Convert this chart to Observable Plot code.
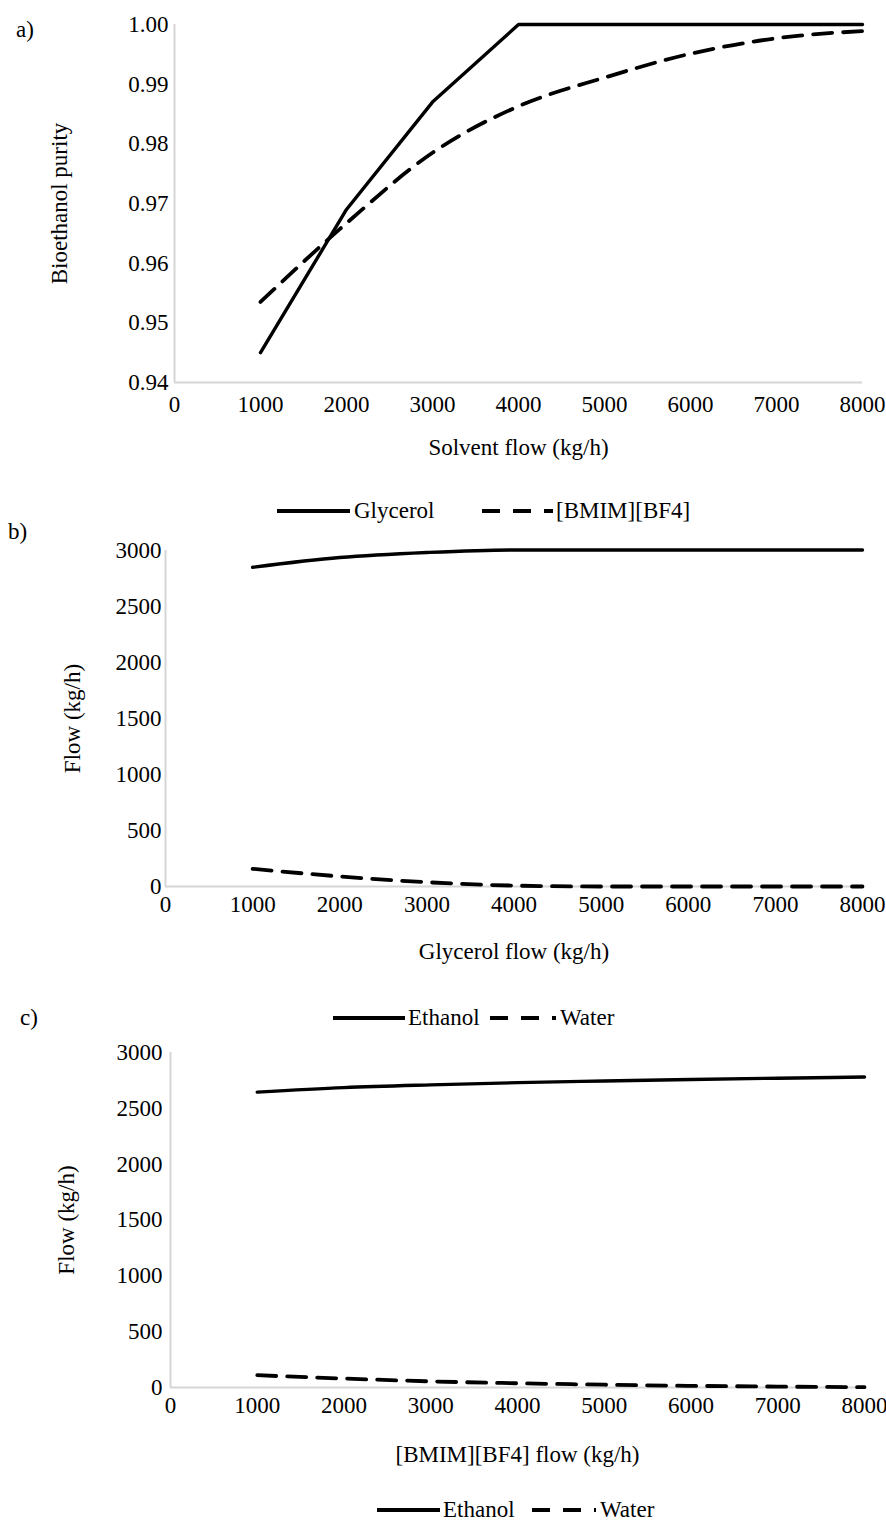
<!DOCTYPE html>
<html>
<head>
<meta charset="utf-8">
<script src="https://cdn.jsdelivr.net/npm/d3@7"></script>
<script src="https://cdn.jsdelivr.net/npm/@observablehq/plot@0.6"></script>
<style>
  html, body { margin: 0; padding: 0; background: #fff; }
  #root { position: relative; width: 886px; height: 1528px; font-family: "Liberation Serif", "Times New Roman", serif; color: #000; overflow: hidden; }
  #root svg, #root svg text, #root svg g { font-family: "Liberation Serif", "Times New Roman", serif !important; font-size: 23px !important; font-variant: normal !important; }
  .abs { position: absolute; }
  .txt { font-size: 23px; line-height: 1; white-space: nowrap; }
</style>
</head>
<body>
<div id="root"></div>
<script>
// ---------- data ----------
const solventFlow = [1000, 2000, 3000, 4000, 5000, 6000, 7000, 8000];
const purityGlycerol = [0.945, 0.969, 0.987, 1.000, 1.000, 1.000, 1.000, 1.000];
const purityBmim = [0.9535, 0.9667, 0.9785, 0.9863, 0.9911, 0.9951, 0.9977, 0.9989];

const glycerolFlow = [1000, 2000, 3000, 4000, 5000, 6000, 7000, 8000];
const glyEthanol = [2850, 2937, 2982, 3005, 3005, 3005, 3005, 3005];
const glyWater = [158, 90, 38, 8, 0, 0, 0, 0];

const bmimFlow = [1000, 2000, 3000, 4000, 5000, 6000, 7000, 8000];
const bmimEthanol = [2645, 2685, 2710, 2730, 2745, 2758, 2770, 2780];
const bmimWater = [110, 80, 55, 38, 25, 15, 8, 3];

const xTicks = [0, 1000, 2000, 3000, 4000, 5000, 6000, 7000, 8000];
const purityTicks = [0.94, 0.95, 0.96, 0.97, 0.98, 0.99, 1.00];
const flowTicks = [0, 500, 1000, 1500, 2000, 2500, 3000];

const panelLabels = ["a)", "b)", "c)"];
const seriesA = ["Glycerol", "[BMIM][BF4]"];
const seriesBC = ["Ethanol", "Water"];
const axisTitles = {
  aX: "Solvent flow (kg/h)", aY: "Bioethanol purity",
  bX: "Glycerol flow (kg/h)", bY: "Flow (kg/h)",
  cX: "[BMIM][BF4] flow (kg/h)", cY: "Flow (kg/h)"
};

// ---------- helpers ----------
const root = document.getElementById("root");
const FONT = "Liberation Serif, Times New Roman, serif";
const DASH = "19,11";

function zip(xs, ys) { return xs.map((x, i) => ({x, y: ys[i]})); }

function panel({top, height, mt, mb, ml, mr, yDomain, yTicks, yFmt, xLabel, yLabel,
                xPad, yPad, xLabOff, yLabOff, solid, dashed, solidCurve, dashedCurve}) {
  const chart = Plot.plot({
    width: 886, height,
    marginTop: mt, marginBottom: mb, marginLeft: ml, marginRight: mr,
    style: {fontFamily: FONT, fontSize: "23px", color: "#000", background: "transparent", overflow: "visible"},
    x: {domain: [0, 8000]},
    y: {domain: yDomain},
    marks: [
      Plot.ruleX([0], {stroke: "#d6d6d6", strokeWidth: 2}),
      Plot.ruleY([yDomain[0]], {stroke: "#d6d6d6", strokeWidth: 2}),
      Plot.axisX({ticks: xTicks, tickSize: 0, tickPadding: xPad, tickFormat: d3.format("d"),
                  fontFamily: FONT, fontSize: 23, fill: "#000",
                  label: xLabel, labelAnchor: "center", labelOffset: xLabOff, labelArrow: "none"}),
      Plot.axisY({ticks: yTicks, tickSize: 0, tickPadding: yPad, tickFormat: yFmt,
                  fontFamily: FONT, fontSize: 23, fill: "#000",
                  label: yLabel, labelAnchor: "center", labelOffset: yLabOff, labelArrow: "none"}),
      Plot.line(dashed, {x: "x", y: "y", stroke: "#000", strokeWidth: 3.8, strokeDasharray: DASH, curve: dashedCurve}),
      Plot.line(solid, {x: "x", y: "y", stroke: "#000", strokeWidth: 3.4, curve: solidCurve})
    ]
  });
  chart.classList.add("abs");
  chart.style.left = "0px";
  chart.style.top = top + "px";
  root.appendChild(chart);
}

function text(str, left, cy) {
  const d = document.createElement("div");
  d.className = "abs txt";
  d.textContent = str;
  d.style.left = left + "px";
  d.style.top = (cy - 12) + "px";
  root.appendChild(d);
}

function legendLine(x1, x2, cy, dashed) {
  const ns = "http://www.w3.org/2000/svg";
  const s = document.createElementNS(ns, "svg");
  s.setAttribute("width", x2 - x1 + 4);
  s.setAttribute("height", 10);
  s.setAttribute("class", "abs");
  s.style.left = (x1 - 2) + "px";
  s.style.top = (cy - 5) + "px";
  const l = document.createElementNS(ns, "line");
  l.setAttribute("x1", 2); l.setAttribute("x2", x2 - x1 + 2);
  l.setAttribute("y1", 5); l.setAttribute("y2", 5);
  l.setAttribute("stroke", "#000");
  l.setAttribute("stroke-width", 4);
  if (dashed) l.setAttribute("stroke-dasharray", "18,13");
  s.appendChild(l);
  root.appendChild(s);
}

// ---------- panel a ----------
panel({top: 0, height: 470, mt: 24, mb: 88, ml: 174, mr: 24,
  yDomain: [0.94, 1.00], yTicks: purityTicks, yFmt: d3.format(".2f"),
  xLabel: axisTitles.aX, yLabel: axisTitles.aY, xPad: 13, yPad: 6, xLabOff: 72, yLabOff: 124,
  solid: zip(solventFlow, purityGlycerol), dashed: zip(solventFlow, purityBmim),
  solidCurve: "linear", dashedCurve: "monotone-x"});
text(panelLabels[0], 16, 30);
legendLine(277, 350, 511, false); text(seriesA[0], 354, 511);
legendLine(482, 553, 511, true); text(seriesA[1], 556, 511);

// ---------- panel b ----------
panel({top: 500, height: 470, mt: 50, mb: 84, ml: 165, mr: 24,
  yDomain: [0, 3000], yTicks: flowTicks, yFmt: d3.format("d"),
  xLabel: axisTitles.bX, yLabel: axisTitles.bY, xPad: 9, yPad: 4, xLabOff: 72, yLabOff: 102,
  solid: zip(glycerolFlow, glyEthanol), dashed: zip(glycerolFlow, glyWater),
  solidCurve: "monotone-x", dashedCurve: "monotone-x"});
text(panelLabels[1], 8, 532);
legendLine(333, 405, 1018, false); text(seriesBC[0], 408, 1018);
legendLine(490, 556, 1018, true); text(seriesBC[1], 560, 1018);

// ---------- panel c ----------
panel({top: 1000, height: 470, mt: 52, mb: 83, ml: 170, mr: 22,
  yDomain: [0, 3000], yTicks: flowTicks, yFmt: d3.format("d"),
  xLabel: axisTitles.cX, yLabel: axisTitles.cY, xPad: 9, yPad: 8, xLabOff: 74, yLabOff: 113,
  solid: zip(bmimFlow, bmimEthanol), dashed: zip(bmimFlow, bmimWater),
  solidCurve: "monotone-x", dashedCurve: "monotone-x"});
text(panelLabels[2], 20, 1018);
legendLine(377, 440, 1510, false); text(seriesBC[0], 443, 1510);
legendLine(532, 596, 1510, true); text(seriesBC[1], 600, 1510);
</script>
</body>
</html>
